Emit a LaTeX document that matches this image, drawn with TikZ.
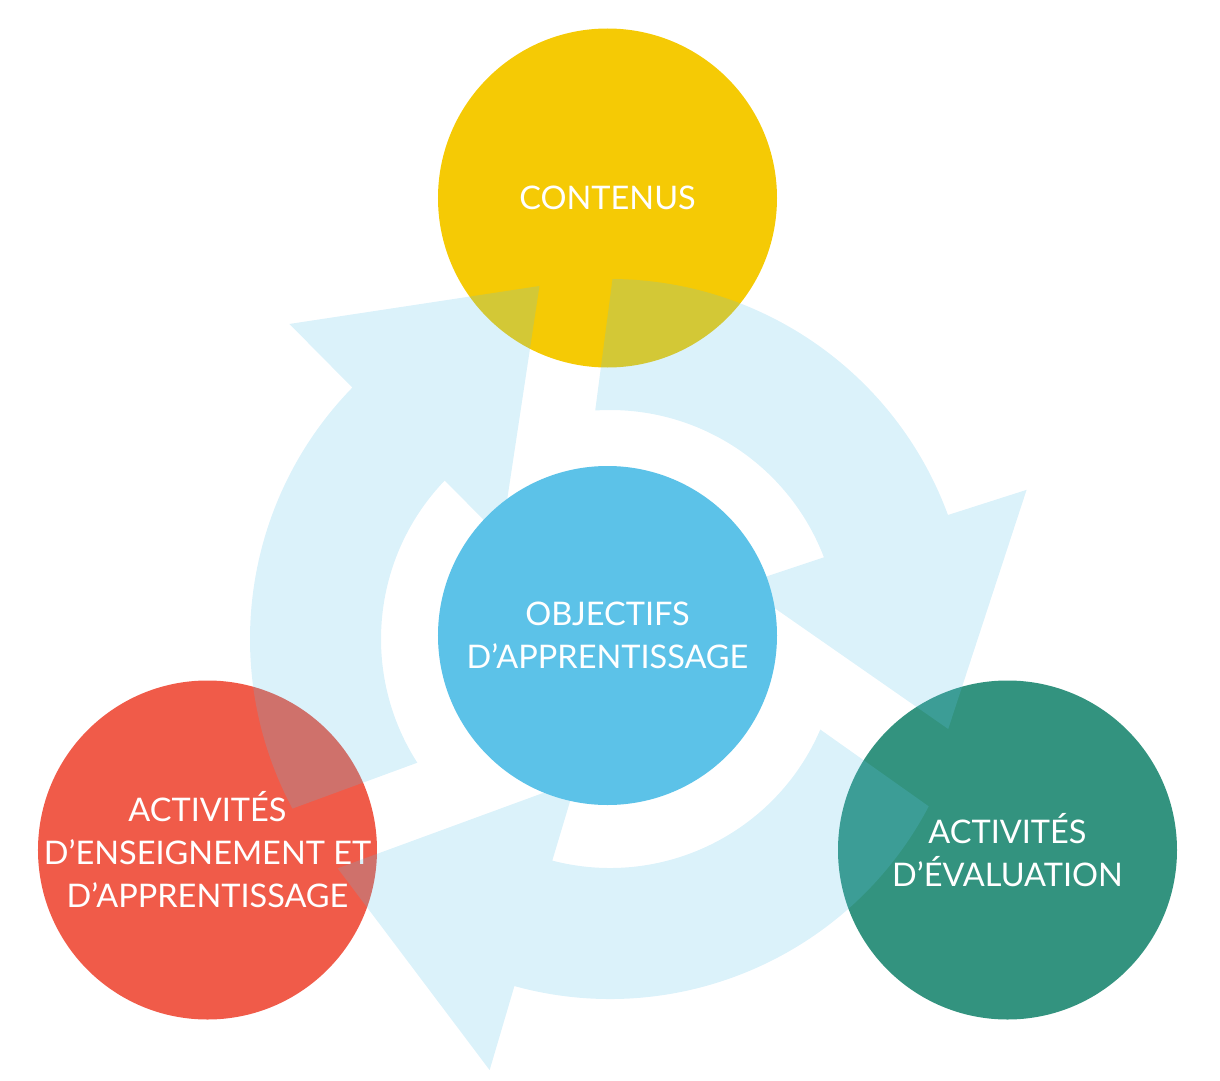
\documentclass[tikz,border=0pt]{standalone}
\usepackage{fontspec}
\setmainfont{Lato}
\definecolor{contyellow}{HTML}{F5CA05}
\definecolor{objblue}{HTML}{5CC2E8}
\definecolor{actred}{HTML}{F05B49}
\definecolor{evalgreen}{HTML}{33937F}
\tikzset{
  bubble/.style={circle, minimum size=339pt, inner sep=-12pt, text=white, align=center,
    font=\fontsize{32.5}{43}\selectfont},
  cyclearrow/.style={fill=objblue, fill opacity=0.22},
}

\begin{document}
\begin{tikzpicture}[x=1pt, y=1pt, line join=miter]
  \useasboundingbox (-610,-441) rectangle (610,639);
  \node[bubble, fill=contyellow] (contenus) at (-2.5,441) {CONTENUS};
  \node[bubble, fill=actred] (enseignement) at (-402.5,-211) {ACTIVITÉS\\D’ENSEIGNEMENT ET\\D’APPRENTISSAGE};
  \node[bubble, fill=evalgreen] (evaluation) at (397.5,-211) {ACTIVITÉS\\D’ÉVALUATION};
  % cycle of three arrows round the centre
  \foreach \tout/\tin/\bout/\bin/\hoa/\hor/\tipa/\tipr/\hia/\hir in {
      208.1/212.7/135.7/136.2/135.5/449.5/101.3/360/137/148.5,
      89.6/93.7/20.15/20.9/19.7/442.5/-14.9/350/22.4/142,
      -27.7/-23.3/-105.4/-104.6/-105.6/447.6/-139.9/356/-103.4/145.8}
    \fill[cyclearrow] (\tout:360) arc[start angle=\tout, end angle=\bout, radius=360]
      -- (\hoa:\hor) -- (\tipa:\tipr) -- (\hia:\hir) -- (\bin:229)
      arc[start angle=\bin, end angle=\tin, radius=229] -- cycle;
  \node[bubble, fill=objblue] (objectifs) at (-2.5,3.5) {OBJECTIFS\\D’APPRENTISSAGE};
\end{tikzpicture}
\end{document}
